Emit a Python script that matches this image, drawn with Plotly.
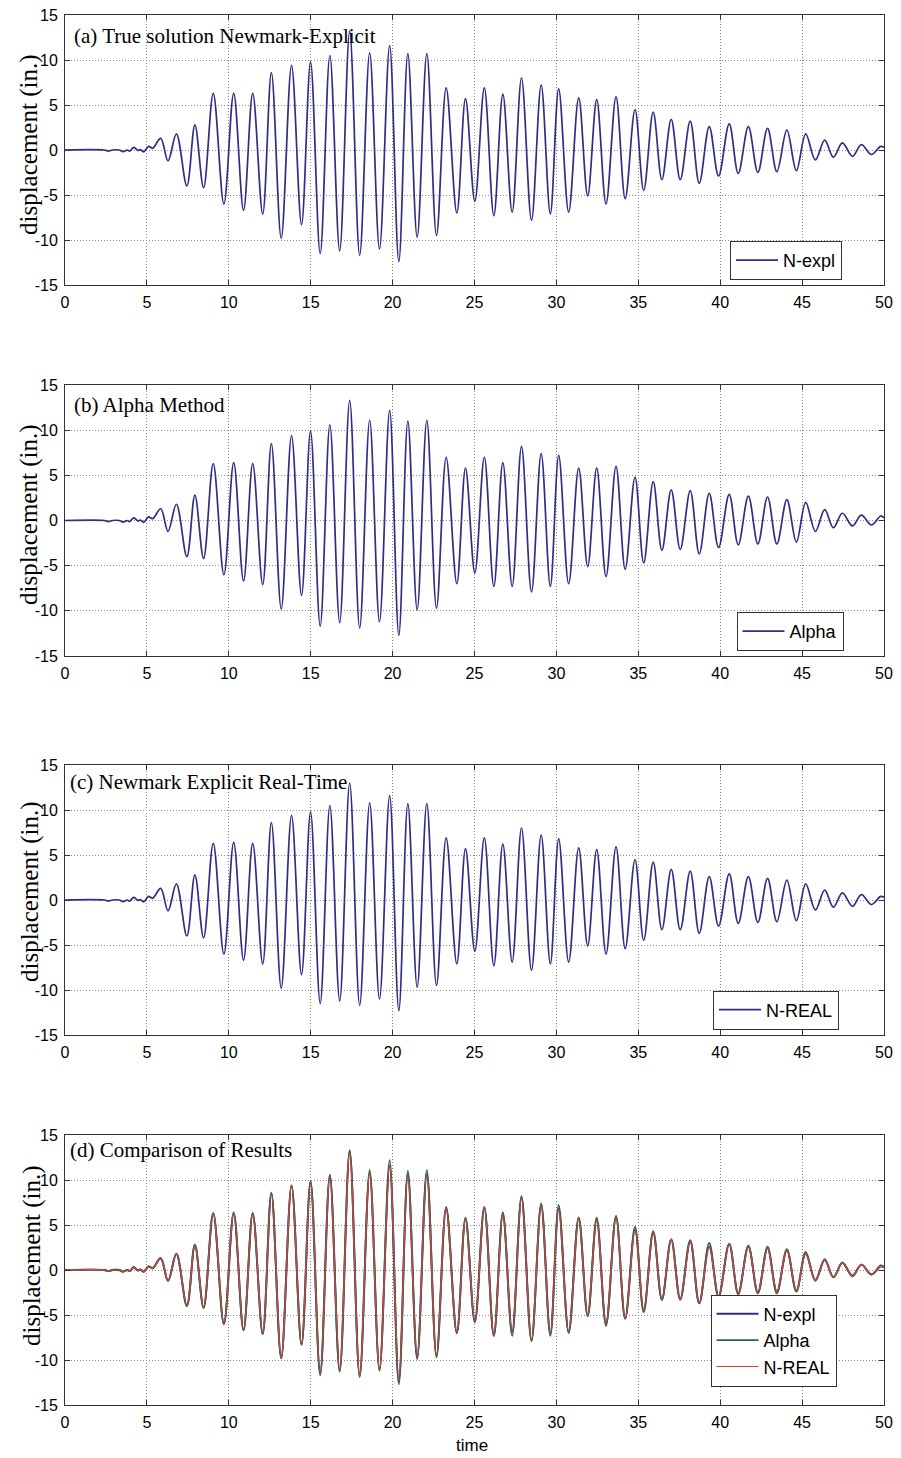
import plotly.graph_objects as go

# ---- data (extrema of the displacement history) ----
t_ext = [0.0, 2.4, 2.65, 2.9, 3.3, 3.55, 3.8, 3.95, 4.2, 4.45, 4.6, 4.8, 5.1, 5.35,
         5.84, 6.29, 6.8, 7.44, 7.93, 8.46, 9.05, 9.7, 10.3, 10.9, 11.46, 12.07,
         12.6, 13.2, 13.83, 14.44, 14.99, 15.58, 16.17, 16.77, 17.38, 17.99, 18.6,
         19.2, 19.82, 20.38, 20.93, 21.5, 22.09, 22.68, 23.27, 23.92, 24.45, 25.02,
         25.6, 26.18, 26.73, 27.3, 27.87, 28.48, 29.07, 29.63, 30.14, 30.75, 31.36,
         31.91, 32.46, 33.03, 33.64, 34.2, 34.8, 35.33, 35.91, 36.44, 37.01, 37.56,
         38.17, 38.72, 39.33, 39.9, 40.55, 41.1, 41.72, 42.3, 42.89, 43.46, 44.07,
         44.65, 45.22, 45.81, 46.38, 46.91, 47.46, 48.07, 48.62, 49.23, 49.8, 50.0]

disp_nexpl = [0.0, 0.0, -0.12, 0.0, 0.0, -0.18, 0.0, -0.12, 0.3, -0.05, 0.05, -0.2, 0.4, 0.2,
              1.3, -1.2, 1.8, -4.0, 2.8, -4.2, 6.3, -6.0, 6.3, -6.7, 6.3, -7.1,
              8.6, -9.8, 9.4, -8.3, 9.8, -11.5, 10.5, -11.2, 13.2, -11.7, 10.8,
              -11.0, 11.6, -12.4, 10.7, -9.7, 10.7, -9.5, 6.9, -7.0, 5.7, -5.7,
              6.9, -7.3, 6.2, -6.9, 8.0, -7.8, 7.2, -7.1, 6.8, -6.9, 5.8,
              -5.1, 5.6, -6.0, 5.9, -5.4, 4.5, -4.5, 4.2, -3.3, 3.4, -3.3,
              3.2, -3.7, 2.6, -2.9, 2.9, -2.6, 2.6, -2.5, 2.4, -2.4, 2.2,
              -2.3, 1.8, -1.1, 1.1, -0.8, 0.8, -0.7, 0.6, -0.5, 0.4, 0.3]

disp_alpha = [0.0, 0.0, -0.12, 0.0, 0.0, -0.18, 0.0, -0.12, 0.3, -0.05, 0.05, -0.2, 0.4, 0.2,
              1.3, -1.2, 1.8, -4.0, 2.8, -4.2, 6.3, -6.0, 6.4, -6.7, 6.3, -7.1,
              8.5, -9.8, 9.4, -8.3, 9.9, -11.7, 10.6, -11.3, 13.3, -11.9, 11.1,
              -11.2, 12.2, -12.7, 11.0, -9.9, 11.1, -9.7, 7.0, -7.0, 5.8, -5.8,
              7.0, -7.3, 6.4, -7.3, 8.2, -7.9, 7.4, -7.3, 7.2, -7.0, 5.8,
              -5.1, 5.8, -6.2, 6.0, -5.4, 4.8, -4.7, 4.3, -3.3, 3.4, -3.2,
              3.3, -3.7, 3.0, -3.0, 2.9, -2.7, 2.7, -2.6, 2.6, -2.6, 2.3,
              -2.4, 2.0, -1.2, 1.2, -0.8, 0.8, -0.6, 0.6, -0.5, 0.5, 0.3]

disp_nreal = [0.0, 0.0, -0.12, 0.0, 0.0, -0.18, 0.0, -0.12, 0.3, -0.05, 0.05, -0.2, 0.4, 0.2,
              1.3, -1.2, 1.8, -4.0, 2.8, -4.2, 6.3, -6.0, 6.4, -6.7, 6.3, -7.1,
              8.6, -9.8, 9.4, -8.3, 9.8, -11.5, 10.5, -11.2, 13.0, -11.7, 10.8,
              -11.0, 11.6, -12.3, 10.7, -9.7, 10.7, -9.5, 6.9, -7.1, 5.7, -5.7,
              6.9, -7.3, 6.2, -6.9, 8.0, -7.8, 7.2, -7.1, 6.8, -6.9, 5.8,
              -5.1, 5.6, -6.0, 5.9, -5.4, 4.5, -4.5, 4.2, -3.3, 3.4, -3.3,
              3.2, -3.7, 2.6, -2.9, 2.9, -2.6, 2.6, -2.5, 2.4, -2.4, 2.2,
              -2.3, 1.8, -1.1, 1.1, -0.8, 0.8, -0.7, 0.6, -0.5, 0.4, 0.3]

x_ticks = [0, 5, 10, 15, 20, 25, 30, 35, 40, 45, 50]
y_ticks = [-15, -10, -5, 0, 5, 10, 15]
y_ticktext = ["-15", "-10", "-5", "0", "5", "10", "15"]
panel_titles = ["(a) True solution Newmark-Explicit", "(b) Alpha Method",
                "(c) Newmark Explicit Real-Time", "(d) Comparison of Results"]

# ---- layout geometry (pixel positions in the 901x1458 page) ----
W, H = 901, 1458


def px(X):
    return X / W


def py(Y):
    return 1 - Y / H


x0, x1 = 65, 884
panels_px = [(15, 285), (385, 656), (765, 1035), (1135, 1405)]
legend_ctr = [(786, 260.5), (790, 631.5), (776, 1010), (773.5, 1340.5)]
title_pos = [(72, 36), (72, 405), (68, 782), (68, 1150)]
ytitle_pos = [(29, 145), (29, 515), (30, 892), (32, 1256)]

NAVY = "#2e2e86"
GREEN = "#2c6446"
RED = "#d8413a"
SANS = "Liberation Sans, Arial, sans-serif"
SERIF = "Liberation Serif, Times New Roman, serif"

fig = go.Figure()


def add(ax_idx, y, name, color, legend, width=1.7):
    fig.add_trace(go.Scatter(
        x=t_ext, y=y, mode="lines", name=name, showlegend=True,
        line=dict(color=color, width=width, shape="spline", smoothing=1.0),
        xaxis="x" if ax_idx == 1 else f"x{ax_idx}",
        yaxis="y" if ax_idx == 1 else f"y{ax_idx}",
        legend=legend,
    ))


add(1, disp_nexpl, "N-expl", NAVY, "legend")
add(2, disp_alpha, "Alpha", NAVY, "legend2")
add(3, disp_nreal, "N-REAL", NAVY, "legend3")
add(4, disp_nexpl, "N-expl", NAVY, "legend4", 1.9)
add(4, disp_alpha, "Alpha", GREEN, "legend4", 1.9)
add(4, disp_nreal, "N-REAL", RED, "legend4", 1.2)

layout = dict(
    width=W, height=H, margin=dict(l=0, r=0, t=0, b=0, autoexpand=False),
    paper_bgcolor="white", plot_bgcolor="white", showlegend=True,
    font=dict(family=SANS, size=16, color="black"),
)

axis_common = dict(
    showline=True, linecolor="#333333", linewidth=1, mirror="ticks",
    ticks="inside", ticklen=5, tickcolor="#333333",
    showgrid=True, gridcolor="#8c8c8c", griddash="1px,2px", gridwidth=1,
    zeroline=False, automargin=False, tickfont=dict(family=SANS, size=16, color="black"),
)

annotations = []
for i, (top, bot) in enumerate(panels_px):
    k = "" if i == 0 else str(i + 1)
    layout[f"xaxis{k}"] = dict(
        axis_common, domain=[px(x0), px(x1)], range=[0, 50],
        tickvals=x_ticks, ticktext=[str(v) for v in x_ticks],
        anchor=f"y{k}", ticklabelstandoff=3,
    )
    layout[f"yaxis{k}"] = dict(
        axis_common, domain=[py(bot), py(top)], range=[-15, 15],
        tickvals=y_ticks, ticktext=y_ticktext, anchor=f"x{k}",
        ticklabelstandoff=3,
    )
    lx, ly = legend_ctr[i]
    layout["legend" + k] = dict(
        x=px(lx), y=py(ly), xanchor="center", yanchor="middle",
        bgcolor="white", bordercolor="#333333", borderwidth=1,
        font=dict(family=SANS, size=18, color="black"),
        tracegroupgap=0, itemwidth=42, visible=True,
    )
    tx, ty = title_pos[i]
    annotations.append(dict(
        text=panel_titles[i], x=px(tx), y=py(ty), xref="paper", yref="paper",
        xanchor="left", yanchor="middle", showarrow=False,
        font=dict(family=SERIF, size=21, color="black"),
    ))
    yx, yy = ytitle_pos[i]
    annotations.append(dict(
        text="displacement (in.)", x=px(yx), y=py(yy), xref="paper", yref="paper",
        xanchor="center", yanchor="middle", textangle=-90, showarrow=False,
        font=dict(family=SERIF, size=25, color="black"),
    ))

annotations.append(dict(
    text="time", x=px(472), y=py(1445), xref="paper", yref="paper",
    xanchor="center", yanchor="middle", showarrow=False,
    font=dict(family=SANS, size=17, color="black"),
))
layout["annotations"] = annotations
fig.update_layout(**layout)

fig.write_html("out.html")
